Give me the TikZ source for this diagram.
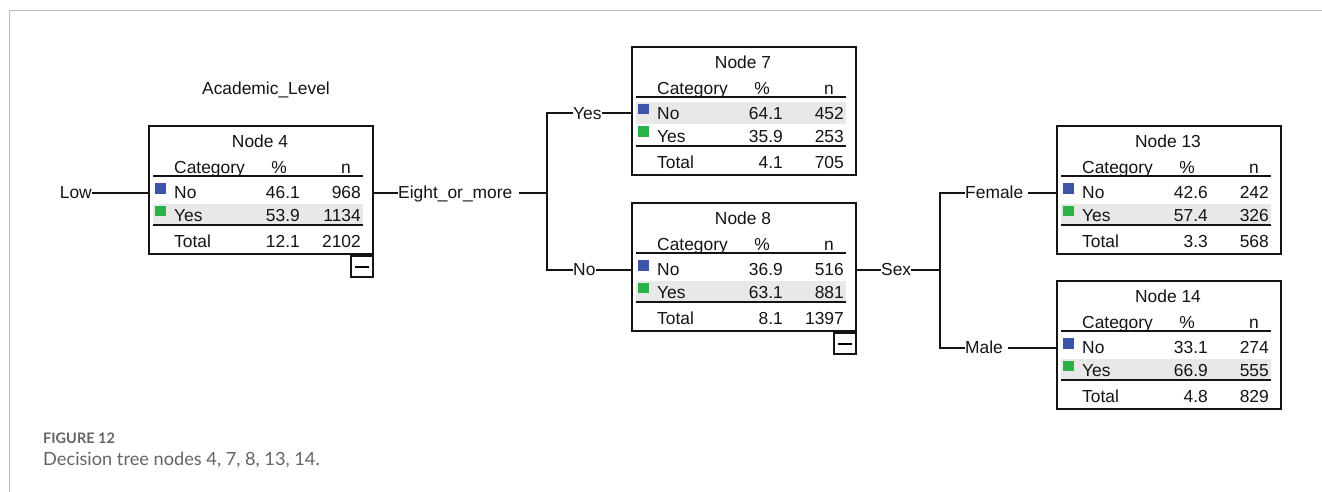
\documentclass[tikz,border=0pt]{standalone}
\usepackage{fontspec}
\setmainfont{Liberation Sans}
\newfontfamily\capfont{Lato}
\usetikzlibrary{positioning}
\definecolor{spssblue}{RGB}{60,84,170}
\definecolor{spssgreen}{RGB}{40,178,72}
\definecolor{bandgray}{RGB}{232,232,232}
\definecolor{inkgray}{RGB}{20,20,20}
\definecolor{framegray}{RGB}{190,190,190}
\definecolor{capgray}{RGB}{100,100,100}
\tikzset{
  treebox/.style={
    rectangle,
    draw=inkgray,
    line width=2pt,
    fill=white,
    minimum width=224pt,
    minimum height=128pt,
    inner sep=0pt,
    anchor=north west
  },
  cell/.style={
    inner sep=0pt,
    text height=12.5pt,
    text depth=0pt,
    text=inkgray,
    font=\fontsize{17.4}{20}\selectfont
  },
  rule/.style={
    draw=inkgray,
    line width=2pt
  },
  branch/.style={
    draw=inkgray,
    line width=2pt
  },
  minusbox/.style={
    rectangle,
    draw=inkgray,
    line width=2pt,
    fill=white,
    minimum width=22pt,
    minimum height=21pt,
    inner sep=0pt,
    anchor=north east
  }
}
% #1 node number, #2 top left, #3 shaded row, #4-#9 No/Yes/Total values
\newcommand{\treenode}[9]{%
  \begin{scope}[shift={#2}]
    \node (n#1) [treebox] at (0,0) {};
    \fill[bandgray] (5,#3-11) rectangle (215,#3+11);
    \node (n#1-title) [cell] at (112,16.5) {Node #1};
    \node (n#1-cat) [cell, anchor=west] at (26,42) {Category};
    \node (n#1-pc) [cell] at (131,42) {\%};
    \node (n#1-nc) [cell] at (198,42) {n};
    \draw[rule] (5,51) -- (215,51);
    \fill[spssblue] (6.5,58) rectangle (17.5,68.5);
    \node (n#1-no) [cell, anchor=west] at (26,67.5) {No};
    \node [cell, anchor=east] at (152,67.5) {#4};
    \node [cell, anchor=east] at (213,67.5) {#5};
    \fill[spssgreen] (6.5,80.5) rectangle (17.5,91);
    \node (n#1-yes) [cell, anchor=west] at (26,90) {Yes};
    \node [cell, anchor=east] at (152,90) {#6};
    \node [cell, anchor=east] at (213,90) {#7};
    \draw[rule] (5,100) -- (215,100);
    \node (n#1-tot) [cell, anchor=west] at (26,116) {Total};
    \node [cell, anchor=east] at (152,116) {#8};
    \node [cell, anchor=east] at (213,116) {#9};
    \coordinate (n#1-in) at (0,67.5);
    \coordinate (n#1-out) at (224,67.5);
  \end{scope}}

\begin{document}
\begin{tikzpicture}[x=1pt, y=-1pt]
    \useasboundingbox (0,0) rectangle (1322,492);
    \draw[framegray, line width=1.5pt] (9.5,492) -- (9.5,10.7) -- (1322,10.7);

    \treenode{4}{(148,125)}{90}{46.1}{968}{53.9}{1134}{12.1}{2102}
    \treenode{7}{(631,46)}{67.5}{64.1}{452}{35.9}{253}{4.1}{705}
    \treenode{8}{(631,202)}{90}{36.9}{516}{63.1}{881}{8.1}{1397}
    \treenode{13}{(1056,125)}{90}{42.6}{242}{57.4}{326}{3.3}{568}
    \treenode{14}{(1056,280)}{90}{33.1}{274}{66.9}{555}{4.8}{829}

    \node (m4) [minusbox] at (n4.south east) {\rule[-1pt]{14pt}{2pt}};
    \node (m8) [minusbox] at (n8.south east) {\rule[-1pt]{14pt}{2pt}};

    \node (acad) [cell] at (266,88) {Academic\_Level};
    \node (low) [cell, left=56pt of n4-in, anchor=east] {Low};
    \node (eight) [cell, right=26pt of n4-out, anchor=west] {Eight\_or\_more};
    \coordinate (split1) at (547,192.5);
    \node (yes) [cell, anchor=west] at (573,113.5) {Yes};
    \node (no) [cell, anchor=west] at (573,269.5) {No};
    \node (sex) [cell, right=26pt of n8-out, anchor=west] {Sex};
    \coordinate (split2) at (940,269.5);
    \node (female) [cell, anchor=west] at (965,192.5) {Female};
    \node (male) [cell, anchor=west] at (965,347.5) {Male};

    \draw[branch] (low.east) -- (n4-in);
    \draw[branch] (n4-out) -- (eight.west);
    \draw[branch] ([xshift=6pt]eight.east) -- (split1);
    \draw[branch] (yes.west) -| (split1) |- (no.west);
    \draw[branch] (yes.east) -- (n7-in);
    \draw[branch] (no.east) -- (n8-in);
    \draw[branch] (n8-out) -- (sex.west);
    \draw[branch] (sex.east) -- (split2);
    \draw[branch] (female.west) -| (split2) |- (male.west);
    \draw[branch] ([xshift=5pt]female.east) -- (n13-in);
    \draw[branch] ([xshift=5pt]male.east) -- (n14-in);

    \node (fig) [anchor=west, inner sep=0pt, text=capgray, font=\capfont\bfseries\fontsize{14.5}{17}\selectfont] at (43,438) {FIGURE 12};
    \node (cap) [anchor=west, inner sep=0pt, text=capgray, font=\capfont\fontsize{18.2}{22}\selectfont] at (43,460) {Decision tree nodes 4, 7, 8, 13, 14.};
\end{tikzpicture}
\end{document}
